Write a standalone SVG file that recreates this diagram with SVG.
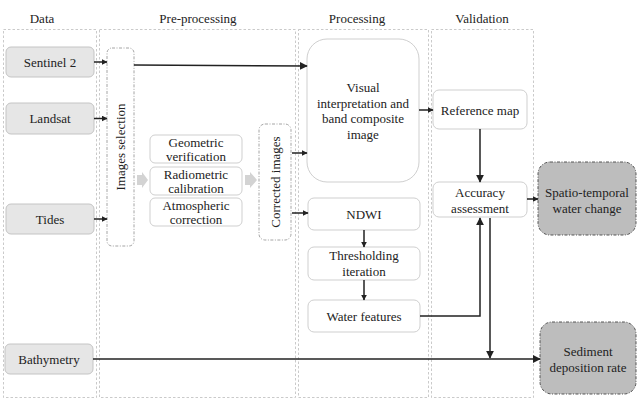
<svg xmlns="http://www.w3.org/2000/svg" width="638" height="402" viewBox="0 0 638 402" font-family="Liberation Serif, Times New Roman, serif">
<style>
text{font-family:'Liberation Serif','Times New Roman',serif;font-size:13px;fill:#222;text-anchor:middle}
.col{fill:none;stroke:#bdbdbd;stroke-width:0.8;stroke-dasharray:2.5,2}
.data{fill:#e6e6e6;stroke:#c4c4c4;stroke-width:1}
.box{fill:#fff;stroke:#cfcfcf;stroke-width:1}
.dd{fill:#fff;stroke:#9a9a9a;stroke-width:0.9;stroke-dasharray:3,1.5,1,1.5}
.out{fill:#bdbdbd;stroke:#555;stroke-width:1;stroke-dasharray:3,1.5,1,1.5}
.ln{fill:none;stroke:#222;stroke-width:1.5}
.blk{fill:#d3d3d3}
</style>
<defs>
<marker id="ah" viewBox="0 0 10 10" refX="9" refY="5" markerWidth="6" markerHeight="6" markerUnits="userSpaceOnUse" orient="auto">
<path d="M0,0 L10,5 L0,10 Z" fill="#222"/>
</marker>
<marker id="ahb" viewBox="0 0 10 10" refX="9" refY="5" markerWidth="8" markerHeight="8" markerUnits="userSpaceOnUse" orient="auto">
<path d="M0,0 L10,5 L0,10 Z" fill="#222"/>
</marker>
</defs>

<g id="columns">
<rect class="col" x="3.5" y="29.5" width="93" height="368"/>
<rect class="col" x="99.5" y="29.5" width="196" height="368"/>
<rect class="col" x="298.5" y="29.5" width="130" height="368"/>
<rect class="col" x="431.5" y="29.5" width="102" height="368"/>
<text x="42" y="23">Data</text>
<text x="198" y="23">Pre-processing</text>
<text x="357" y="23">Processing</text>
<text x="482" y="23">Validation</text>
</g>

<g id="sentinel2"><rect class="data" x="6" y="47" width="88" height="30" rx="5"/><text x="50" y="66.5">Sentinel 2</text></g>
<g id="landsat"><rect class="data" x="6" y="103" width="88" height="31" rx="5"/><text x="50" y="123">Landsat</text></g>
<g id="tides"><rect class="data" x="6" y="204" width="88" height="30" rx="5"/><text x="50" y="223.5">Tides</text></g>
<g id="bathymetry"><rect class="data" x="5" y="344" width="88" height="30" rx="5"/><text x="49" y="363.5">Bathymetry</text></g>

<g id="images-selection"><rect class="dd" x="107" y="48" width="27" height="198" rx="5"/><text transform="translate(125,147) rotate(-90)">Images selection</text></g>

<g id="geometric"><rect class="box" x="150" y="135" width="92" height="28" rx="5"/><text x="196" y="147">Geometric</text><text x="196" y="161">verification</text></g>
<g id="radiometric"><rect class="box" x="150" y="167" width="92" height="28" rx="5"/><text x="196" y="179">Radiometric</text><text x="196" y="193">calibration</text></g>
<g id="atmospheric"><rect class="box" x="150" y="198" width="92" height="28" rx="5"/><text x="196" y="210">Atmospheric</text><text x="196" y="224">correction</text></g>

<g id="block-arrows">
<polygon class="blk" points="137,175 142,175 142,172 148,180 142,188 142,185 137,185"/>
<polygon class="blk" points="245,175 250,175 250,172 257,180 250,188 250,185 245,185"/>
</g>

<g id="corrected-images"><rect class="dd" x="259" y="124" width="32" height="116" rx="6"/><text transform="translate(279.5,182) rotate(-90)">Corrected images</text></g>

<g id="visual"><rect class="box" x="307" y="39" width="112" height="143" rx="20"/>
<text x="363" y="92">Visual</text><text x="363" y="107.5">interpretation and</text><text x="363" y="123">band composite</text><text x="363" y="138.5">image</text></g>
<g id="ndwi"><rect class="box" x="308" y="198" width="112" height="32" rx="6"/><text x="364" y="218.5">NDWI</text></g>
<g id="thresholding"><rect class="box" x="308" y="247" width="112" height="33" rx="6"/><text x="364" y="260">Thresholding</text><text x="364" y="276">iteration</text></g>
<g id="water-features"><rect class="box" x="308" y="300" width="112" height="32" rx="6"/><text x="364" y="321">Water features</text></g>

<g id="reference-map"><rect class="box" x="433" y="90" width="94" height="39" rx="6"/><text x="480" y="114.5">Reference map</text></g>
<g id="accuracy"><rect class="box" x="433" y="182" width="94" height="35" rx="6"/><text x="480" y="197">Accuracy</text><text x="480" y="212.5">assessment</text></g>

<g id="spatio-temporal"><rect class="out" x="538" y="162" width="98" height="73" rx="12"/><text x="587" y="197">Spatio-temporal</text><text x="587" y="213">water change</text></g>
<g id="sediment"><rect class="out" x="540" y="322" width="96" height="72" rx="12"/><text x="588" y="356">Sediment</text><text x="588" y="372">deposition rate</text></g>

<g id="connectors">
<line class="ln" x1="94" y1="62" x2="107" y2="62" marker-end="url(#ah)"/>
<line class="ln" x1="94" y1="118.5" x2="107" y2="118.5" marker-end="url(#ah)"/>
<line class="ln" x1="94" y1="219" x2="107" y2="219" marker-end="url(#ah)"/>
<line class="ln" x1="134" y1="65" x2="307" y2="66" marker-end="url(#ahb)"/>
<line class="ln" x1="292" y1="153" x2="307" y2="153" marker-end="url(#ah)"/>
<line class="ln" x1="292" y1="213" x2="308" y2="213" marker-end="url(#ah)"/>
<line class="ln" x1="364" y1="230" x2="364" y2="247" marker-end="url(#ah)"/>
<line class="ln" x1="364" y1="280" x2="364" y2="300" marker-end="url(#ah)"/>
<line class="ln" x1="419" y1="110" x2="433" y2="110" marker-end="url(#ah)"/>
<line class="ln" x1="480" y1="129" x2="480" y2="182" marker-end="url(#ahb)"/>
<line class="ln" x1="527" y1="199" x2="538" y2="199" marker-end="url(#ah)"/>
<polyline class="ln" points="420,316 480,316 480,218" marker-end="url(#ahb)"/>
<line class="ln" x1="490" y1="218" x2="490" y2="358" marker-end="url(#ahb)"/>
<line class="ln" x1="93" y1="359" x2="540" y2="359" marker-end="url(#ahb)"/>
</g>
</svg>
